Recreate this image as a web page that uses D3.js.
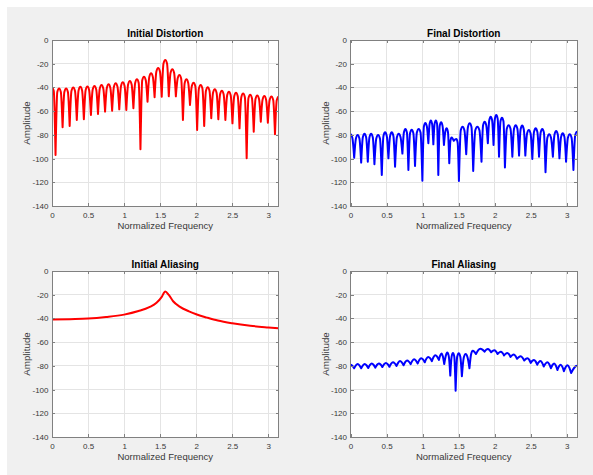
<!DOCTYPE html>
<html><head><meta charset="utf-8">
<script src="https://cdn.jsdelivr.net/npm/d3@7"></script>
<style>
html,body{margin:0;padding:0;background:#fff;}
svg{display:block;}
text{font-family:"Liberation Sans",Arial,Helvetica,sans-serif;}
</style></head><body>
<svg id="fig" width="593" height="475"></svg>
<script>
// ---------------- data ----------------
const xTicks = [0, 0.5, 1, 1.5, 2, 2.5, 3];
const xTickLabels = ["0", "0.5", "1", "1.5", "2", "2.5", "3"];
const yTicks = [-140, -120, -100, -80, -60, -40, -20, 0];
const yTickLabels = ["-140", "-120", "-100", "-80", "-60", "-40", "-20", "0"];
const titles = ["Initial Distortion", "Final Distortion", "Initial Aliasing", "Final Aliasing"];
const xLabel = "Normalized Frequency";
const yLabel = "Amplitude";

// Initial Distortion: null positions / depths, lobe peak levels (first at 0, last at pi)
const idNullX = [0.049, 0.147, 0.245, 0.344, 0.442, 0.540, 0.638, 0.736, 0.834, 0.933, 1.031, 1.129, 1.227, 1.325, 1.423, 1.522,
                 1.620, 1.718, 1.816, 1.914, 2.013, 2.111, 2.209, 2.307, 2.405, 2.503, 2.601, 2.700, 2.798, 2.896, 2.994, 3.093];
const idNullDb = [-97, -73.6, -72.5, -67.5, -66.9, -63.2, -62.4, -60.4, -59.6, -58.5, -59, -57.6, -92.2, -52, -48.3, -47.8,
                  -47.5, -47.5, -67.5, -54.8, -75.9, -72.5, -66, -66.9, -67.5, -70.3, -74.5, -99.8, -77.3, -68.9, -69.7, -79.5];
const idPeakDb = [-40, -40.8, -40.8, -40, -39.5, -39.3, -38.8, -38, -37.4, -36.5, -35.7, -34.6, -33.2, -30.9, -28.1, -23.6, -16.9,
                  -24.7, -29.5, -33.2, -36, -38, -39.8, -41.5, -42.7, -43.6, -44.5, -45.2, -46.2, -46.8, -47.3, -47.6, -47.8];

// Final Distortion
const fdNullX = [0.051, 0.148, 0.240, 0.332, 0.434, 0.526, 0.618, 0.720, 0.803, 0.895, 0.997, 1.080, 1.149, 1.218, 1.296, 1.370,
                 1.432, 1.504, 1.605, 1.702, 1.817, 1.905, 1.984, 2.060, 2.142, 2.245, 2.338, 2.425, 2.522, 2.615, 2.705, 2.807,
                 2.898, 2.990, 3.092];
const fdNullDb = [-99.2, -103.4, -102.6, -104.8, -113.8, -99.8, -106.8, -95.8, -109.6, -106.2, -118.6, -87.1, -88, -113.8, -88.5, -104,
                  -85, -118.9, -96.4, -110.4, -102.6, -87.1, -88.5, -98.4, -107.6, -98.4, -97.5, -97.5, -100.3, -98.4, -111.5, -98.4,
                  -99.8, -102.6, -109.6];
const fdPeakDb = [-79.5, -80.1, -79, -79, -80.1, -77.9, -77.9, -79, -75, -75.6, -75, -70, -67.8, -67.8, -69.4, -74.5, -82.3,
                  -83.5, -73.1, -70.3, -73.1, -68.9, -64.7, -63.3, -65.5, -71.8, -71.8, -72.2, -75.9, -74.5, -75, -79.5, -76.7,
                  -78.7, -79.5, -77.3];

// Initial Aliasing (smooth curve)
const iaX  = [0, 0.25, 0.5, 0.75, 1.0, 1.2, 1.35, 1.45, 1.52, 1.571, 1.62, 1.68, 1.77, 1.9, 2.0, 2.15, 2.3, 2.5, 2.75, 3.0, 3.1416];
const iaDb = [-41, -40.6, -40.1, -38.8, -36.8, -33.8, -30.5, -26.8, -22, -17.2, -20.2, -25.5, -30, -34, -36.5, -39.3, -41.8, -44.1, -46.2, -47.6, -48.3];

// Final Aliasing: trough positions / levels, peak levels (first at 0, last at pi)
const faNullX = [0.05, 0.148, 0.246, 0.344, 0.442, 0.54, 0.638, 0.736, 0.834, 0.932, 1.03, 1.128, 1.226, 1.30, 1.384, 1.458,
                 1.545, 1.65, 1.74, 1.86, 1.95, 2.04, 2.13, 2.22, 2.31, 2.41, 2.50, 2.59, 2.68, 2.78, 2.87, 2.96, 3.06];
const faNullDb = [-82, -82, -81.8, -81.5, -81, -80.8, -80, -79.5, -78.5, -78, -77, -76, -75, -78.5, -88.2, -101,
                  -88.8, -82, -70, -68, -68.5, -70, -71.2, -72.5, -74, -75.5, -77.5, -79, -80.5, -82, -83.5, -84.5, -86];
const faPeakDb = [-79, -78.5, -78.5, -78, -78, -77.5, -77, -76, -75.5, -74.5, -73.5, -72.5, -71, -69.5, -68.8, -69.2, -69.3,
                  -70, -67.2, -65.5, -65.8, -66.8, -68.2, -69.2, -70.5, -72, -73.5, -75, -76, -77, -78, -79, -79.5, -80];

// ---------------- drawing ----------------
const SHOULDER_DB = 3;   // lobe roundness used when drawing between a null and a peak
const svg = d3.select("#fig");
svg.append("rect").attr("x", 7).attr("y", 7).attr("width", 586).attr("height", 468).attr("fill", "#f0f0f0");

const W = 226.5, H = 166;
const panels = [
  {title: titles[0], L: 52,    T: 40,  kind: "lobes", nx: idNullX, nd: idNullDb, pk: idPeakDb, color: "#ff0000"},
  {title: titles[1], L: 350.5, T: 40,  kind: "lobes", nx: fdNullX, nd: fdNullDb, pk: fdPeakDb, color: "#0000ff"},
  {title: titles[2], L: 52,    T: 271, kind: "smooth", xs: iaX, ys: iaDb, color: "#ff0000"},
  {title: titles[3], L: 350.5, T: 271, kind: "lobes", nx: faNullX, nd: faNullDb, pk: faPeakDb, color: "#0000ff"}
];

function lobeSegments(nullX, nullDb, peakDb) {
  const segs = [];
  const n = nullX.length;
  for (let i = 0; i <= n; i++) {
    let xl, dl, xr, dr, xp;
    if (i === 0) { xr = nullX[0]; dr = nullDb[0]; xl = -xr; dl = dr; xp = 0; }
    else if (i === n) { xl = nullX[n - 1]; dl = nullDb[n - 1]; xr = 2 * Math.PI - xl; dr = dl; xp = Math.PI; }
    else { xl = nullX[i - 1]; dl = nullDb[i - 1]; xr = nullX[i]; dr = nullDb[i]; xp = (xl + xr) / 2; }
    const P = peakDb[i];
    const sl = P - Math.min(SHOULDER_DB, 0.3 * (P - dl));
    const sr = P - Math.min(SHOULDER_DB, 0.3 * (P - dr));
    segs.push([[xl, dl], [(xl + xp) / 2, sl], [xp, P], [(xp + xr) / 2, sr], [xr, dr]]);
  }
  return segs;
}

panels.forEach((p, idx) => {
  const x = d3.scaleLinear().domain([0, Math.PI]).range([p.L, p.L + W]);
  const y = d3.scaleLinear().domain([-140, 0]).range([p.T + H, p.T]);
  const g = svg.append("g");

  g.append("rect").attr("x", p.L).attr("y", p.T).attr("width", W).attr("height", H).attr("fill", "#ffffff");

  // grid
  const grid = g.append("g").attr("stroke", "#e4e4e4").attr("stroke-width", 1).attr("shape-rendering", "crispEdges");
  grid.selectAll("line.gx").data(xTicks).join("line")
    .attr("x1", d => x(d)).attr("x2", d => x(d)).attr("y1", p.T).attr("y2", p.T + H);
  grid.selectAll("line.gy").data(yTicks).join("line").attr("class", "gy")
    .attr("x1", p.L).attr("x2", p.L + W).attr("y1", d => y(d)).attr("y2", d => y(d));

  // clip
  const cid = "clip" + idx;
  svg.append("clipPath").attr("id", cid).append("rect")
    .attr("x", p.L).attr("y", p.T).attr("width", W).attr("height", H);

  const line = d3.line().x(d => x(d[0])).y(d => y(d[1])).curve(d3.curveMonotoneX);
  let dPath;
  if (p.kind === "lobes") {
    dPath = lobeSegments(p.nx, p.nd, p.pk).map(s => line(s)).join("");
  } else {
    dPath = line(p.xs.map((v, i) => [v, p.ys[i]]));
  }
  g.append("path").attr("d", dPath).attr("clip-path", `url(#${cid})`)
    .attr("fill", "none").attr("stroke", p.color).attr("stroke-width", 2)
    .attr("stroke-linejoin", "round").attr("stroke-linecap", "round");

  // axes (inward ticks on all four sides)
  const axCol = "#808080";
  const fmtX = (d) => xTickLabels[xTicks.indexOf(d)];
  const fmtY = (d) => yTickLabels[yTicks.indexOf(d)];
  const bottom = g.append("g").attr("transform", `translate(0,${p.T + H})`)
    .call(d3.axisBottom(x).tickValues(xTicks).tickFormat(fmtX).tickSizeInner(-3).tickSizeOuter(0).tickPadding(6));
  const top = g.append("g").attr("transform", `translate(0,${p.T})`)
    .call(d3.axisTop(x).tickValues(xTicks).tickFormat("").tickSizeInner(-3).tickSizeOuter(0));
  const left = g.append("g").attr("transform", `translate(${p.L},0)`)
    .call(d3.axisLeft(y).tickValues(yTicks).tickFormat(fmtY).tickSizeInner(-3).tickSizeOuter(0).tickPadding(3.5));
  const right = g.append("g").attr("transform", `translate(${p.L + W},0)`)
    .call(d3.axisRight(y).tickValues(yTicks).tickFormat("").tickSizeInner(-3).tickSizeOuter(0));
  [bottom, top, left, right].forEach(a => {
    a.select(".domain").remove();
    a.selectAll(".tick line").attr("stroke", axCol).attr("shape-rendering", "crispEdges");
    a.selectAll("text").attr("fill", "#383838").attr("font-size", 8)
      .attr("font-family", '"Liberation Sans",Arial,sans-serif');
  });
  g.append("rect").attr("x", p.L).attr("y", p.T).attr("width", W).attr("height", H)
    .attr("fill", "none").attr("stroke", axCol).attr("stroke-width", 1).attr("shape-rendering", "crispEdges");

  // texts
  g.append("text").attr("x", p.L + W / 2).attr("y", p.T - 3.5).attr("text-anchor", "middle")
    .attr("font-size", 10).attr("font-weight", "bold").attr("fill", "#000").text(p.title);
  g.append("text").attr("x", p.L + W / 2).attr("y", p.T + H + 23).attr("text-anchor", "middle")
    .attr("font-size", 9.5).attr("fill", "#383838").text(xLabel);
  g.append("text").attr("transform", `translate(${p.L - 22},${p.T + H / 2}) rotate(-90)`)
    .attr("text-anchor", "middle").attr("font-size", 9.8).attr("fill", "#383838").text(yLabel);
});
</script>
</body></html>
